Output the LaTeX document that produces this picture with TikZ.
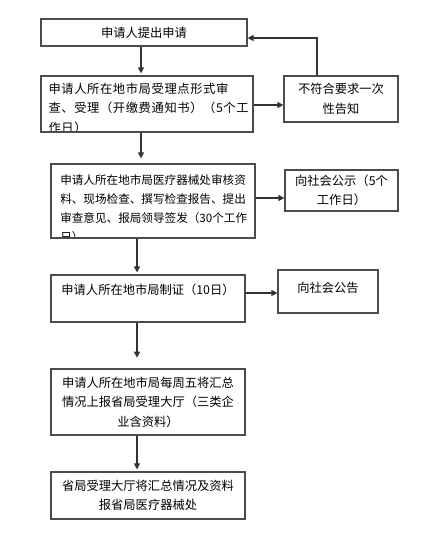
\documentclass[tikz,border=0pt]{standalone}
\usepackage{fontspec}
\setmainfont{Noto Sans CJK SC}
\newfontfamily\cjkwide[LetterSpace=5]{Noto Sans CJK SC}
\usetikzlibrary{arrows.meta}

\begin{document}
\begin{tikzpicture}[x=0.75pt,y=-0.75pt]
	\tikzstyle{every node}+=[inner sep=0pt]
	\tikzstyle{box}=[draw=black!70, line width=0.9pt, font=\fontsize{9.2pt}{14.6pt}\selectfont, align=center]
	\tikzstyle{cliptext}=[draw=none, inner sep=0pt, minimum width=0pt, minimum height=0pt, anchor=west, align=left]
	\tikzstyle{arr}=[draw=black!80, line width=0.9pt, -{Triangle[length=4.5pt,width=4.5pt]}]
	\useasboundingbox (0,0) rectangle (423,533);
	% main column
	\node [box, minimum width=154.5pt, minimum height=20.25pt] (A) at (144,32.5) {申请人提出申请};
	\node [box, minimum width=159pt, minimum height=42pt,
		path picture={\node [cliptext, font=\cjkwide\fontsize{9.2pt}{14.6pt}\selectfont]
			at ([xshift=5.25pt,yshift=-3pt]path picture bounding box.west)
			{申请人所在地市局受理点形式审\\查、受理（开缴费通知书）（5个工\\作日）};}] (B) at (147,104) {};
	\node [box, minimum width=153pt, minimum height=55.5pt,
		path picture={\node [cliptext, font=\fontsize{8.7pt}{14.25pt}\selectfont]
			at ([xshift=6.5pt,yshift=-6pt]path picture bounding box.west)
			{申请人所在地市局医疗器械处审核资\\料、现场检查、撰写检查报告、提出\\审查意见、报局领导签发（30个工作\\日）};}] (D) at (153,201) {};
	\node [box, minimum width=145.5pt, text height=14.25pt, text depth=21pt] (F) at (148,298.5) {申请人所在地市局制证（10日）};
	\node [box, minimum width=145.5pt, minimum height=49.5pt] (H) at (148,402) {申请人所在地市局每周五将汇总\\情况上报省局受理大厅（三类企\\业含资料）};
	\node [box, minimum width=145.5pt, minimum height=35.25pt] (I) at (148,495.5) {省局受理大厅将汇总情况及资料\\报省局医疗器械处};
	% side boxes
	\node [box, minimum width=85.5pt, minimum height=34.5pt] (C) at (341,99) {不符合要求一次\\性告知};
	\node [box, minimum width=84.75pt, minimum height=30.75pt] (E) at (341.5,190.5) {向社会公示（5个\\工作日）};
	\node [box, minimum width=75pt, text height=17.1pt, text depth=15.15pt] (G) at (328,291.5) {向社会公告};
	% connectors
	\coordinate (sp1) at (141,0);
	\coordinate (sp2) at (137,0);
	\coordinate (rB) at (0,105);
	\coordinate (rD) at (0,198);
	\coordinate (rF) at (0,293);
	\coordinate (fb) at (317,38);
	\draw [arr, shorten >=1.5pt] (A.south -| sp1) -- (B.north -| sp1);
	\draw [arr, shorten >=3.75pt] (B.south -| sp1) -- (D.north -| sp1);
	\draw [arr, shorten >=1.5pt] (D.south -| sp2) -- (F.north -| sp2);
	\draw [arr, shorten >=8pt] (F.south -| sp2) -- (H.north -| sp2);
	\draw [arr, shorten >=1.5pt] (H.south -| sp2) -- (I.north -| sp2);
	\draw [arr] (B.east |- rB) -- (C.west |- rB);
	\draw [arr] (D.east |- rD) -- (E.west |- rD);
	\draw [arr] (F.east |- rF) -- (G.west |- rF);
	\draw [arr] (C.north -| fb) |- (A.east |- fb);
\end{tikzpicture}
\end{document}
